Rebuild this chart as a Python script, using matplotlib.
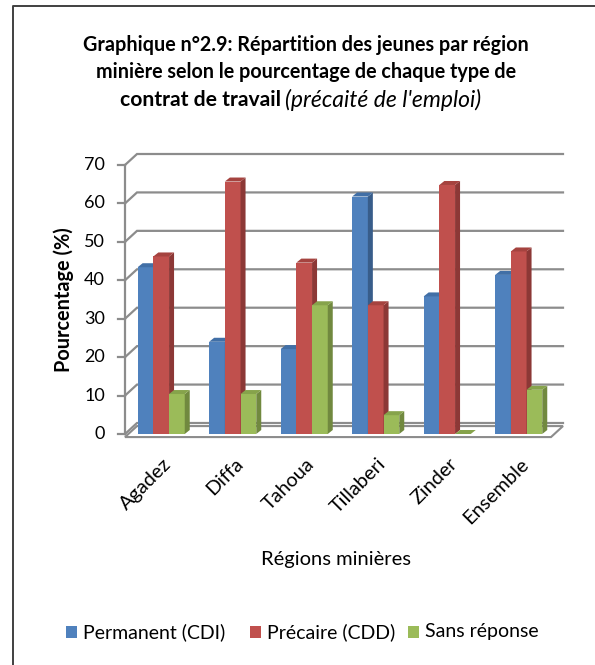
import numpy as np
import matplotlib
matplotlib.use("Agg")
from matplotlib import pyplot as plt
from matplotlib.patches import Polygon, Rectangle
from matplotlib.lines import Line2D

plt.rcParams['font.family'] = ['Lato', 'DejaVu Sans']

regions = ["Agadez", "Diffa", "Tahoua", "Tillaberi", "Zinder", "Ensemble"]
series = ["Permanent (CDI)", "Précaire (CDD)", "Sans réponse"]
cdi = [43.4, 24.0, 22.1, 61.8, 35.8, 41.4]
cdd = [46.2, 65.7, 44.6, 33.5, 64.8, 47.5]
sans = [10.4, 10.4, 33.5, 4.9, 0.0, 11.5]
yticks = [0, 10, 20, 30, 40, 50, 60, 70]

front = ["#4F81BD", "#C0504D", "#9BBB59"]
side = ["#385D8A", "#8C3836", "#71893F"]
top = ["#416FA6", "#A5433F", "#86A34B"]

W, H = 595, 665
fig = plt.figure(figsize=(W / 100, H / 100), dpi=100)

def fx(px):
    return px / W

def fy(py):
    return 1 - py / H

# axes: value 0 at y=434px, 70 at 165px; category 0 centre at 161px, 71.5px per step
ax = fig.add_axes([fx(125), fy(434), fx(570) - fx(125), fy(165) - fy(434)])
x0 = (125 - 161.2) / 71.5
x1 = (570 - 161.2) / 71.5
ax.set_xlim(x0, x1)
ax.set_ylim(0, 70)
ax.axis("off")

upx = 1 / 71.5     # x units per pixel
upy = 70 / 269.0   # y units per pixel
wdx, wdy = 12 * upx, 11 * upy   # wall depth
bdx, bdy = 5 * upx, 4 * upy     # bar depth
xr = (563 - 161.2) / 71.5
grid_c = "#8C8C8C"

# floor
floor = Polygon([(x0, -0.8), (x0 + wdx, -0.8 + wdy), (xr, -0.8 + wdy), (xr - wdx, -0.8)],
                closed=True, facecolor="white", edgecolor=grid_c, lw=1.5, clip_on=False)
ax.add_patch(floor)

# gridlines on back wall
for v in yticks:
    ax.plot([x0, x0 + wdx, xr], [v, v + wdy, v + wdy], color=grid_c, lw=1.6,
            clip_on=False, solid_joinstyle="miter")
    ax.plot([x0 - 7 * upx, x0], [v, v], color=grid_c, lw=1.6, clip_on=False)
    ax.text(x0 - 20 * upx, v, str(v), ha="right", va="center", fontsize=13)
ax.plot([x0, x0], [0, 70], color=grid_c, lw=1.6, clip_on=False)

# bars with fake depth
bw = 15.7 * upx
for s, vals in enumerate([cdi, cdd, sans]):
    for i, v in enumerate(vals):
        xl = i - 1.5 * bw + s * bw
        if v > 0:
            ax.add_patch(Rectangle((xl, 0), bw, v, facecolor=front[s], edgecolor="none",
                                   clip_on=False, zorder=3 + s))
            ax.add_patch(Polygon([(xl + bw, 0), (xl + bw + bdx, bdy), (xl + bw + bdx, v + bdy),
                                  (xl + bw, v)], closed=True, facecolor=side[s],
                                 edgecolor="none", clip_on=False, zorder=3 + s))
        ax.add_patch(Polygon([(xl, v), (xl + bdx, v + bdy), (xl + bw + bdx, v + bdy),
                              (xl + bw, v)], closed=True, facecolor=top[s],
                             edgecolor="none", clip_on=False, zorder=3 + s))

# category labels
for i, r in enumerate(regions):
    ax.text(i + 0.02, -5.5, r, rotation=45, ha="right", va="top", fontsize=14.3,
            rotation_mode="anchor")

# title
fig.text(fx(306), fy(45), "Graphique n°2.9: Répartition des jeunes par région",
         ha="center", va="center", fontsize=14.2, fontweight="bold")
fig.text(fx(306), fy(72), "minière selon le pourcentage de chaque type de",
         ha="center", va="center", fontsize=14.2, fontweight="bold")
fig.text(fx(281), fy(100), "contrat de travail", ha="right", va="center",
         fontsize=15.2, fontweight="bold")
fig.text(fx(285), fy(100), "(précaité de l'emploi)", ha="left", va="center",
         fontsize=16.5, fontstyle="italic")

fig.text(fx(64), fy(300), "Pourcentage (%)", rotation=90, ha="center", va="center",
         fontsize=14.3, fontweight="bold")
fig.text(fx(336), fy(560), "Régions minières", ha="center", va="center", fontsize=14.5)

# legend
leg_sq = [66, 250, 408]
for s, name in enumerate(series):
    fig.patches.append(Rectangle((fx(leg_sq[s]), fy(638)), fx(11), 12 / H,
                                 transform=fig.transFigure, facecolor=front[s],
                                 edgecolor="none"))
    fig.text(fx(leg_sq[s] + 17), fy(632), name, ha="left", va="center", fontsize=14)

# chart border (top and left edges only are visible)
fig.lines.append(Line2D([fx(13), fx(13), 1], [0, fy(6), fy(6)], transform=fig.transFigure,
                        color="#404040", lw=1.4))

fig.savefig("out.png", dpi=100)
